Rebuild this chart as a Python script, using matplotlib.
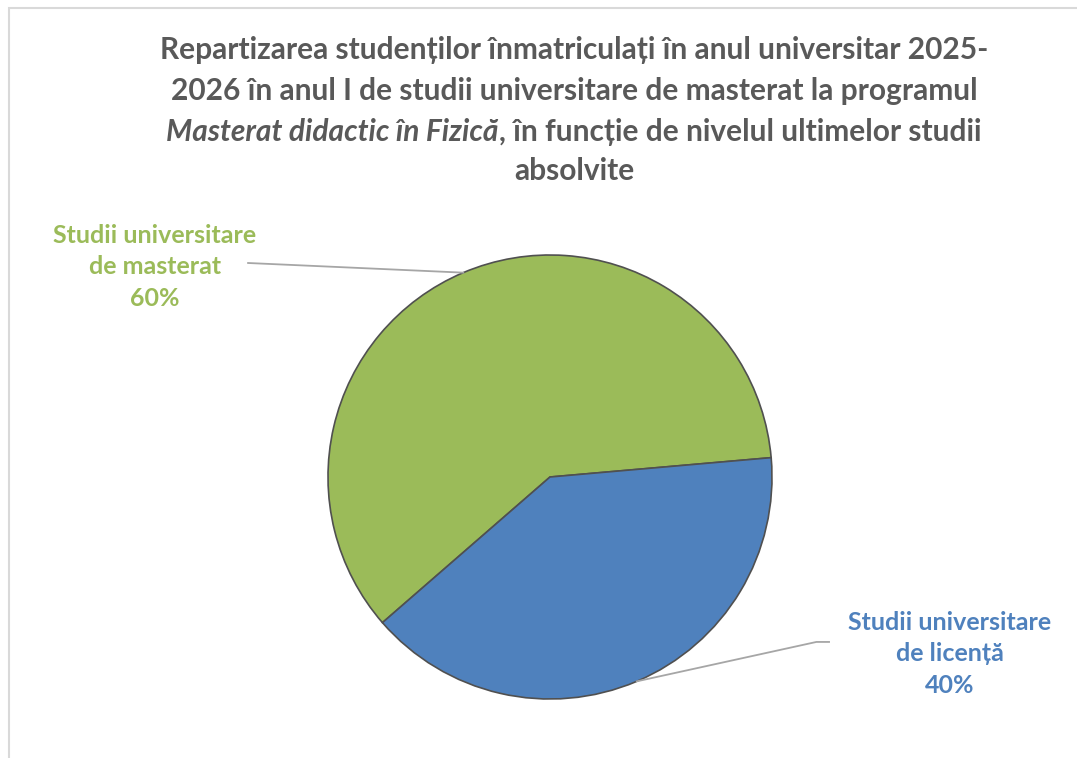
import numpy as np
import matplotlib.pyplot as plt
from matplotlib.patches import Rectangle

plt.rcParams['font.family'] = ['Lato', 'DejaVu Sans']

# data
labels = ['Studii universitare\nde masterat', 'Studii universitare\nde licență']
values = [60, 40]
colors = ['#9BBB59', '#4F81BD']

title_lines = [
    'Repartizarea studenților înmatriculați în anul universitar 2025-',
    '2026 în anul I de studii universitare de masterat la programul',
    None,
    'absolvite',
]
title_italic = 'Masterat didactic în Fizică'
title_rest = ', în funcție de nivelul ultimelor studii'

W, H = 1077, 758
fig = plt.figure(figsize=(W / 100, H / 100), dpi=100)

# light frame (only top and left visible in reference)
fig.patches.append(Rectangle((8.5 / W, -0.1), 1.2, 1 - 8.5 / H + 0.1,
                             transform=fig.transFigure, fill=False,
                             ec='#D9D9D9', lw=1.5))

# pie axes: center (550, 477) px, radius 222 px
cx, cy, r = 550, 477, 222
ax = fig.add_axes([(cx - r) / W, (H - cy - r) / H, 2 * r / W, 2 * r / H])
wedges, _ = ax.pie(values, colors=colors, startangle=5, counterclock=True,
                   radius=1, wedgeprops=dict(edgecolor='#505050', linewidth=1.2))
ax.set_xlim(-1, 1)
ax.set_ylim(-1, 1)
ax.set_aspect('equal')
ax.axis('off')

tc = '#595959'
tsize = 21.5
ys = [50, 91, None, 171]
for line, y in zip(title_lines, ys):
    if line:
        fig.text(574 / W, 1 - y / H, line, ha='center', va='center',
                 fontsize=tsize, fontweight='bold', color=tc)

# mixed italic/bold line 3
renderer = fig.canvas.get_renderer()
y3 = 1 - 132 / H
t1 = fig.text(0, y3, title_italic, ha='left', va='center', fontsize=tsize,
              fontweight='bold', fontstyle='italic', color=tc)
t2 = fig.text(0, y3, title_rest, ha='left', va='center', fontsize=tsize,
              fontweight='bold', color=tc)
w1 = t1.get_window_extent(renderer).width
w2 = t2.get_window_extent(renderer).width
x0 = 574 - (w1 + w2) / 2
t1.set_x(x0 / W)
t2.set_x((x0 + w1) / W)

# data labels with leader lines
lab_pos = [(-1.78, 0.946), (1.80, -0.797)]
line_end = [[(-1.36, 0.964)], [(1.20, -0.743), (1.257, -0.743)]]
for w, lab, v, c, (lx, ly), ends in zip(wedges, labels, values, colors,
                                         lab_pos, line_end):
    mid = np.deg2rad((w.theta1 + w.theta2) / 2)
    px, py = np.cos(mid), np.sin(mid)
    xs = [px] + [e[0] for e in ends]
    yv = [py] + [e[1] for e in ends]
    ax.plot(xs, yv, color='#A6A6A6', lw=1.3, clip_on=False)
    ax.text(lx, ly, f'{lab}\n{v}%', ha='center', va='center', fontsize=18,
            fontweight='bold', color=c, linespacing=1.45)

fig.savefig('out.png', dpi=100, facecolor='white')
